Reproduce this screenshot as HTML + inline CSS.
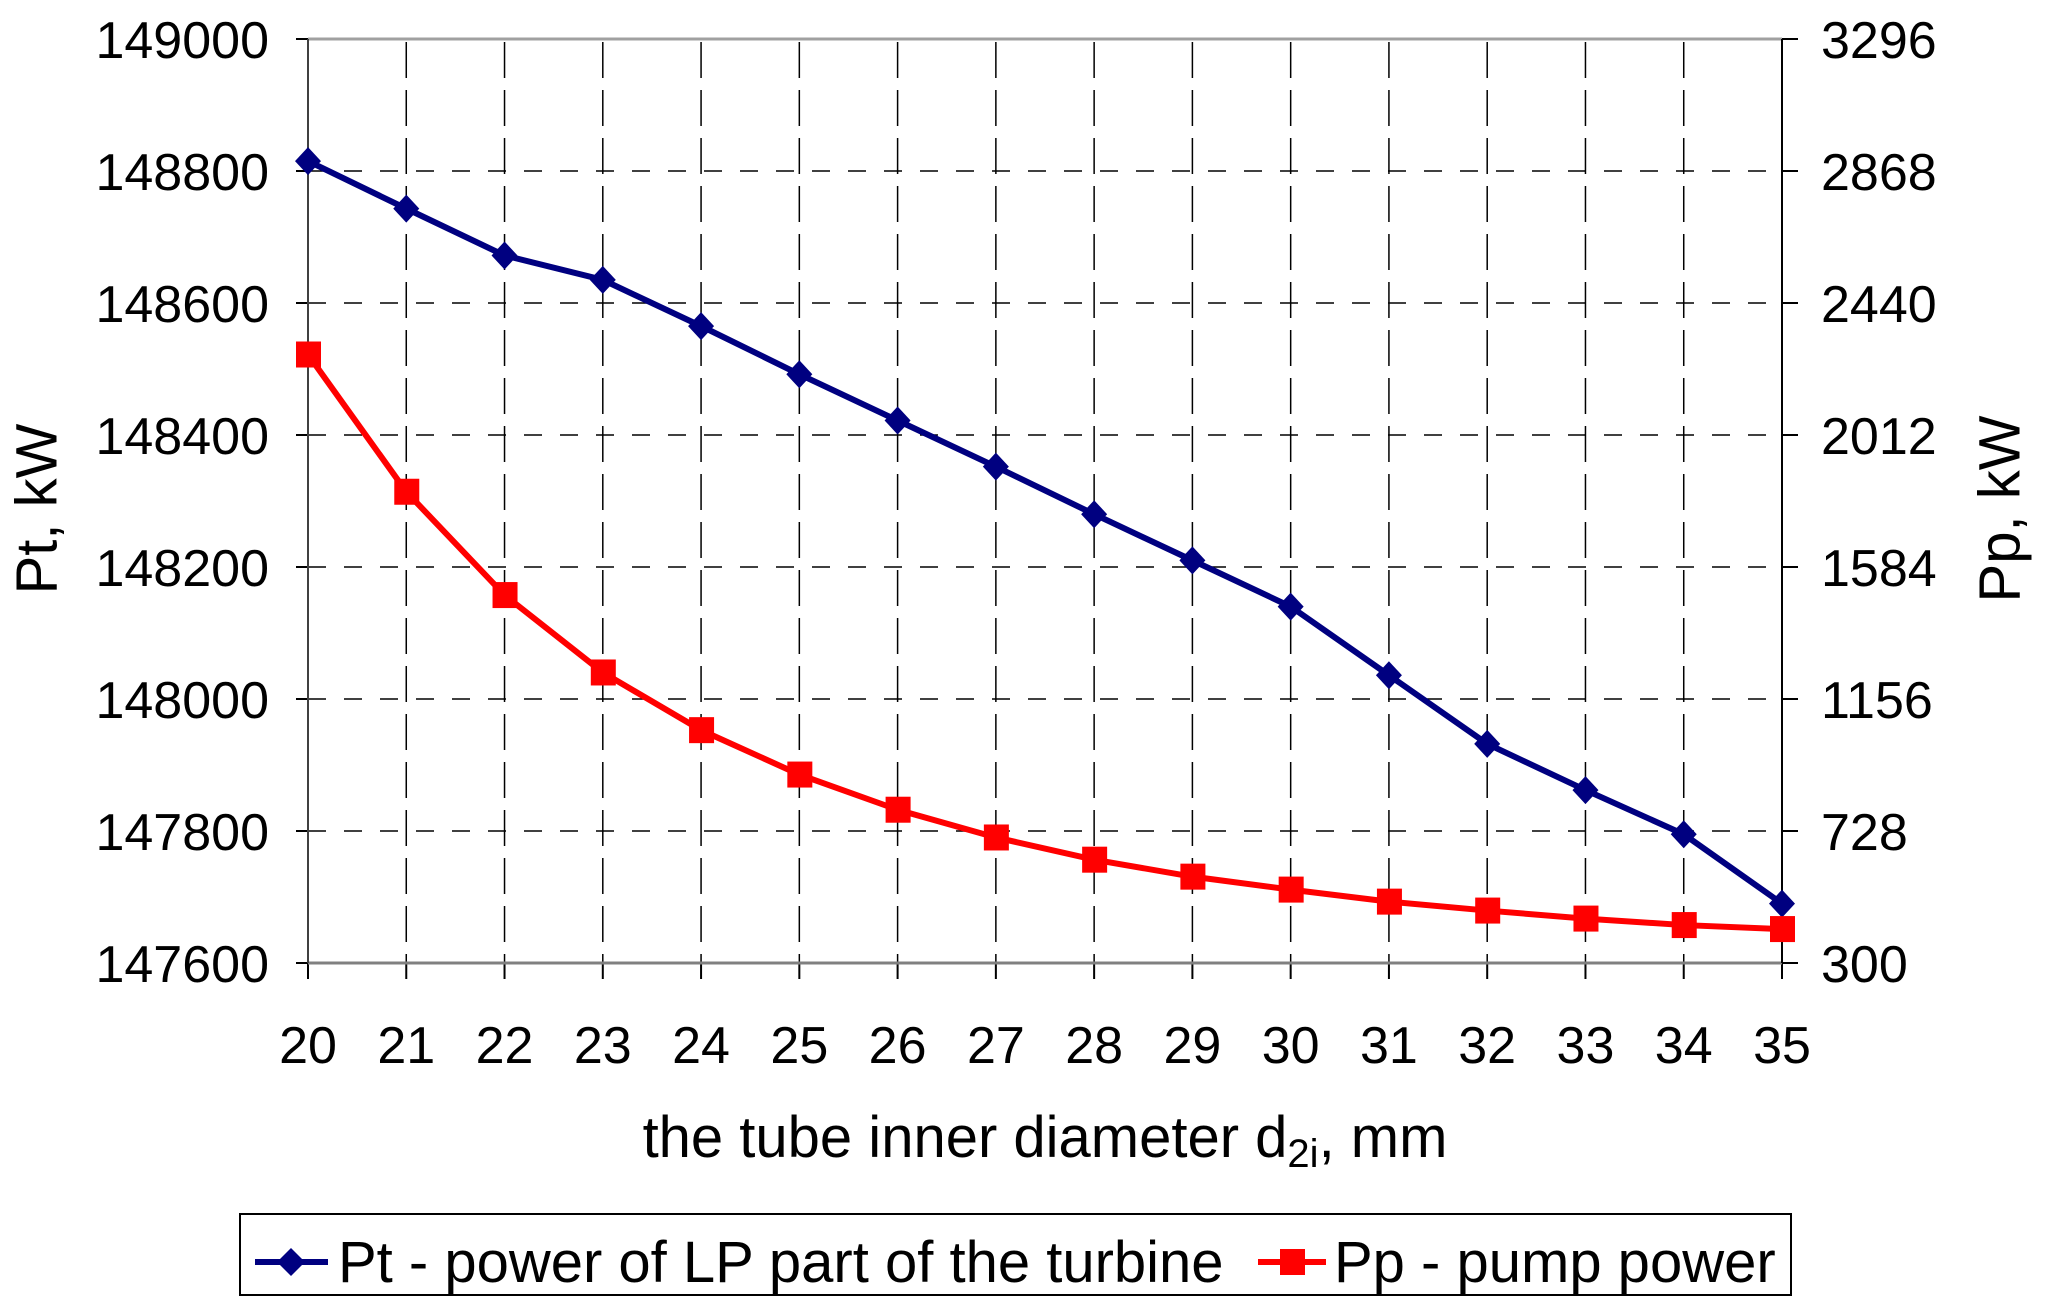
<!DOCTYPE html>
<html><head><meta charset="utf-8"><style>
html,body{margin:0;padding:0;background:#fff;}
svg{display:block;font-family:"Liberation Sans",Arial,sans-serif;}
</style></head><body>
<svg id="chart" width="2054" height="1315" viewBox="0 0 2054 1315" xmlns="http://www.w3.org/2000/svg">
<g id="grid"></g>
<g id="axes"></g>
<g id="series"></g>
<text x="37" y="509" font-size="58" text-anchor="middle" dominant-baseline="central" transform="rotate(-90 37 509)">Pt, kW</text>
<text x="2000" y="509" font-size="58" text-anchor="middle" dominant-baseline="central" transform="rotate(-90 2000 509)">Pp, kW</text>
<text x="1045" y="1157" font-size="58" text-anchor="middle">the tube inner diameter d<tspan font-size="40" dy="10">2i</tspan><tspan dy="-10">, mm</tspan></text>
<g>
<rect x="240" y="1214" width="1551" height="81" fill="#fff" stroke="#000" stroke-width="2"/>
<g>
<line x1="255" y1="1262" x2="328" y2="1262" stroke="#000080" stroke-width="6"/>
<polygon points="291,1248 305,1262 291,1276 277,1262" fill="#000080"/>
<text x="338" y="1282" font-size="58">Pt - power of LP part of the turbine</text>
</g>
<g>
<line x1="1258" y1="1262" x2="1326" y2="1262" stroke="#ff0000" stroke-width="6"/>
<rect x="1280" y="1249" width="25" height="26" fill="#ff0000"/>
<text x="1334" y="1282" font-size="58">Pp - pump power</text>
</g>
</g>
</svg>
<script>
const categories=[20,21,22,23,24,25,26,27,28,29,30,31,32,33,34,35];
const ptValues=[148815,148743,148672,148635,148565,148492,148422,148352,148280,148210,148140,148036,147932,147862,147795,147690];
const ppValues=[2273,1828,1493,1242,1055,911,797,707,635,580,538,499,470,444,423,410];
const leftTicks=[147600,147800,148000,148200,148400,148600,148800,149000];
const rightTicks=[300,728,1156,1584,2012,2440,2868,3296];
const NS="http://www.w3.org/2000/svg";
const L=308,R=1782,T=39,B=963;
const xs=i=>L+(R-L)*(categories[i]-categories[0])/(categories[categories.length-1]-categories[0]);
const yL=v=>B-(B-T)*(v-147600)/(149000-147600);
const yR=v=>B-(B-T)*(v-300)/(3296-300);
function mk(tag,attrs,parent){const e=document.createElementNS(NS,tag);for(const k in attrs)e.setAttribute(k,attrs[k]);parent.appendChild(e);return e;}
const grid=document.getElementById('grid'),axes=document.getElementById('axes'),ser=document.getElementById('series');
leftTicks.forEach((v,i)=>{const y=yL(v);
 if(i>0&&i<leftTicks.length-1){const g=mk('line',{x1:L,y1:y,x2:R,y2:y,stroke:'#000','stroke-width':1.5,'stroke-dasharray':'18,18'},grid);
 
 }
 mk('line',{x1:L-12,y1:y,x2:L,y2:y,stroke:'#000','stroke-width':2},axes);
 const t=mk('text',{x:269,y:y+19,'font-size':52,'text-anchor':'end'},axes);t.textContent=v;
 
 
});
rightTicks.forEach((v,i)=>{const y=yR(v);
 mk('line',{x1:R,y1:y,x2:R+16,y2:y,stroke:'#000','stroke-width':2},axes);
 const t=mk('text',{x:1821,y:y+19,'font-size':52},axes);t.textContent=v;
 
 
});
categories.forEach((c,i)=>{const xx=xs(i);
 if(i>0&&i<categories.length-1){const g=mk('line',{x1:xx,y1:T,x2:xx,y2:B,stroke:'#000','stroke-width':1.5,'stroke-dasharray':'36,12','stroke-dashoffset':'-3'},grid);
 
 }
 mk('line',{x1:xx,y1:B,x2:xx,y2:B+16,stroke:'#000','stroke-width':2},axes);
 const t=mk('text',{x:xx,y:1063,'font-size':52,'text-anchor':'middle'},axes);t.textContent=c;
 
 
});
mk('line',{x1:L,y1:T,x2:R,y2:T,stroke:'#a0a0a0','stroke-width':3},axes);
mk('line',{x1:L,y1:B,x2:R,y2:B,stroke:'#808080','stroke-width':3},axes);
mk('line',{x1:L,y1:T,x2:L,y2:B,stroke:'#404040','stroke-width':2},axes);
mk('line',{x1:R,y1:T,x2:R,y2:B,stroke:'#000','stroke-width':2},axes);
const ptLine=mk('polyline',{points:ptValues.map((v,i)=>xs(i)+','+yL(v)).join(' '),fill:'none',stroke:'#000080','stroke-width':6},ser);


const ppLine=mk('polyline',{points:ppValues.map((v,i)=>xs(i)+','+yR(v)).join(' '),fill:'none',stroke:'#ff0000','stroke-width':6},ser);


ptValues.forEach((v,i)=>{const xx=xs(i),y=yL(v);
 const p=mk('polygon',{points:(xx)+','+(y-14)+' '+(xx+13)+','+y+' '+xx+','+(y+14)+' '+(xx-13)+','+y,fill:'#000080'},ser);
 
 
});
ppValues.forEach((v,i)=>{const xx=xs(i),y=yR(v);
 const p=mk('rect',{x:xx-12,y:y-13,width:25,height:26,fill:'#ff0000'},ser);
 
 
});
</script>
</body></html>
